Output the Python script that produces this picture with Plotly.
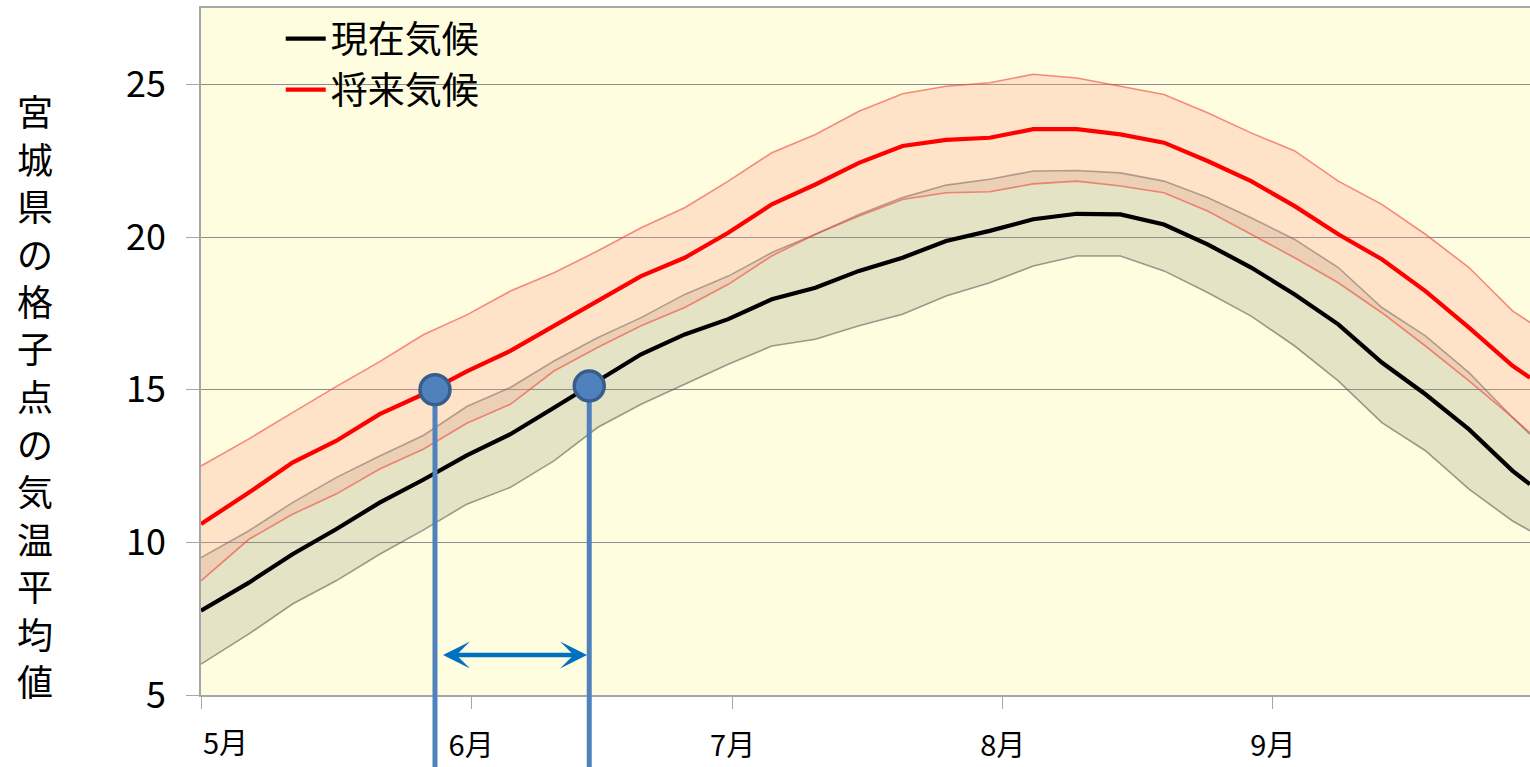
import plotly.graph_objects as go

# ---------------- data ----------------
days = [0, 5.5, 10.5, 15.5, 20.5, 25.5, 30.5, 35.5, 40.5, 45.5, 50.5, 55.5,
        60.5, 65.5, 70.5, 75.5, 80.5, 85.5, 90.5, 95.5, 100.5, 105.5, 110.5,
        115.5, 120.5, 125.5, 130.5, 135.5, 140.5, 145.5, 150.5, 152.5]

cur_mean = [7.76, 8.68, 9.61, 10.43, 11.3, 12.05, 12.85, 13.54, 14.41, 15.3, 16.16, 16.81,
            17.31, 17.96, 18.34, 18.89, 19.32, 19.87, 20.2, 20.58, 20.76, 20.74, 20.41,
            19.76, 19.0, 18.12, 17.14, 15.89, 14.85, 13.7, 12.34, 11.9]
cur_upper = [9.5, 10.38, 11.3, 12.12, 12.83, 13.5, 14.45, 15.07, 15.94, 16.7, 17.36, 18.12,
             18.72, 19.49, 20.09, 20.74, 21.29, 21.7, 21.89, 22.16, 22.18, 22.1, 21.83,
             21.29, 20.63, 19.92, 19.0, 17.69, 16.76, 15.56, 14.09, 13.54]
cur_lower = [6.01, 7.0, 7.98, 8.74, 9.61, 10.4, 11.25, 11.8, 12.67, 13.76, 14.52, 15.18,
             15.83, 16.43, 16.65, 17.09, 17.47, 18.07, 18.5, 19.05, 19.38, 19.38, 18.89,
             18.18, 17.41, 16.43, 15.29, 13.92, 13.0, 11.74, 10.7, 10.38]

fut_mean = [10.6, 11.63, 12.61, 13.32, 14.2, 14.85, 15.6, 16.27, 17.09, 17.9, 18.72, 19.32,
            20.14, 21.07, 21.72, 22.43, 22.98, 23.18, 23.25, 23.53, 23.53, 23.36, 23.09,
            22.49, 21.83, 21.01, 20.09, 19.27, 18.23, 17.03, 15.78, 15.39]
fut_upper = [12.5, 13.39, 14.25, 15.1, 15.92, 16.8, 17.45, 18.23, 18.83, 19.54, 20.3, 20.96,
             21.83, 22.76, 23.36, 24.12, 24.69, 24.94, 25.05, 25.33, 25.21, 24.94, 24.67,
             24.07, 23.41, 22.82, 21.83, 21.07, 20.09, 19.0, 17.58, 17.2]
fut_lower = [8.74, 10.1, 10.92, 11.58, 12.4, 13.05, 13.9, 14.52, 15.61, 16.38, 17.09, 17.69,
             18.45, 19.38, 20.09, 20.69, 21.23, 21.45, 21.48, 21.74, 21.83, 21.67, 21.45,
             20.85, 20.09, 19.32, 18.5, 17.52, 16.43, 15.29, 14.09, 13.59]

month_days = [0, 31, 61, 92, 123]
month_labels = ["5月", "6月", "7月", "8月", "9月"]

marker_days = [26.85, 44.55]
marker_temps = [15.0, 15.12]

arrow_days = [27.6, 44.3]
arrow_temp = 6.31

y_ticks = [5, 10, 15, 20, 25]
x_range = [0, 152.5]
y_range = [5, 27.5]

series_names = ["現在気候", "将来気候"]
y_title = "宮城県の格子点の気温平均値"

# ---------------- styles / layout ----------------
W, H = 1530, 767
M_L, M_R, M_T, M_B = 201, 0, 8, 72
PLOT_H = H - M_T - M_B

BG = "#FFFDE0"
CUR_FILL = "rgba(150,150,115,0.25)"
FUT_FILL = "rgba(250,160,140,0.27)"
CUR_EDGE = "rgba(80,80,80,0.55)"
FUT_EDGE = "rgba(240,70,60,0.6)"
BLUE = "#4F81BD"
BLUE_DARK = "#385D8A"
ARROW = "#0070C0"
FONT_NUM = "Liberation Sans Narrow, Noto Sans CJK JP, sans-serif"
FONT_JP = "Noto Sans CJK JP, sans-serif"

fig = go.Figure()

# current band
fig.add_trace(go.Scatter(x=days, y=cur_lower, mode="lines",
                         line=dict(color=CUR_EDGE, width=1.6), showlegend=False, hoverinfo="skip"))
fig.add_trace(go.Scatter(x=days, y=cur_upper, mode="lines", fill="tonexty", fillcolor=CUR_FILL,
                         line=dict(color=CUR_EDGE, width=1.6), showlegend=False, hoverinfo="skip"))
# future band
fig.add_trace(go.Scatter(x=days, y=fut_lower, mode="lines",
                         line=dict(color=FUT_EDGE, width=1.6), showlegend=False, hoverinfo="skip"))
fig.add_trace(go.Scatter(x=days, y=fut_upper, mode="lines", fill="tonexty", fillcolor=FUT_FILL,
                         line=dict(color=FUT_EDGE, width=1.6), showlegend=False, hoverinfo="skip"))
# means
fig.add_trace(go.Scatter(x=days, y=cur_mean, mode="lines", name=series_names[0],
                         line=dict(color="black", width=4.2), legendgroup="a"))
fig.add_trace(go.Scatter(x=days, y=fut_mean, mode="lines", name=series_names[1],
                         line=dict(color="#FF0000", width=4.2), legendgroup="b"))

# vertical blue lines inside the plot (from marker down to axis)
for d, t in zip(marker_days, marker_temps):
    fig.add_trace(go.Scatter(x=[d, d], y=[t, y_range[0]], mode="lines",
                             line=dict(color=BLUE, width=5), showlegend=False, hoverinfo="skip"))

# markers
fig.add_trace(go.Scatter(x=marker_days, y=marker_temps, mode="markers",
                         marker=dict(size=30, color=BLUE, line=dict(color=BLUE_DARK, width=3.5)),
                         showlegend=False, hoverinfo="skip", cliponaxis=False))

# continuation of the blue lines below the plot area
shapes = []
for d in marker_days:
    shapes.append(dict(type="line", xref="x", yref="paper", x0=d, x1=d, y0=0, y1=-0.12,
                       line=dict(color=BLUE, width=5), layer="above"))

annotations = []
# double-headed arrow
annotations.append(dict(x=arrow_days[1], y=arrow_temp, ax=arrow_days[0], ay=arrow_temp,
                        xref="x", yref="y", axref="x", ayref="y", text="", showarrow=True,
                        arrowhead=3, startarrowhead=3, arrowside="end+start",
                        arrowsize=1.0, startarrowsize=1.0, arrowwidth=4.5, arrowcolor=ARROW))

# vertical y-axis title: one upright character per line, stacked top to bottom
title_first_px, title_step_px = 110, 47.5   # page pixels of first char centre, spacing
for i, ch in enumerate(y_title):
    py = title_first_px + i * title_step_px
    annotations.append(dict(text=ch, xref="paper", yref="paper",
                            x=-0.125, y=(H - M_B - py) / PLOT_H,
                            xanchor="center", yanchor="middle", showarrow=False,
                            font=dict(family=FONT_JP, size=36, color="black")))

# first month label (placed to the right of the axis corner as in the original)
annotations.append(dict(text=month_labels[0], xref="x", yref="paper", x=month_days[0], y=0,
                        xanchor="left", yanchor="top", yshift=-23, xshift=0, showarrow=False,
                        font=dict(family=FONT_JP, size=29, color="black")))

fig.update_layout(
    width=W, height=H,
    margin=dict(l=M_L, r=M_R, t=M_T, b=M_B, autoexpand=False),
    paper_bgcolor="white",
    plot_bgcolor=BG,
    shapes=shapes,
    annotations=annotations,
    legend=dict(x=0.06, y=1.0, xanchor="left", yanchor="top", bgcolor="rgba(0,0,0,0)",
                font=dict(family=FONT_JP, size=37, color="black"), tracegroupgap=0,
                itemwidth=40),
    showlegend=True,
)

fig.update_xaxes(range=x_range, tickmode="array", tickvals=month_days,
                 ticktext=[""] + month_labels[1:], automargin=False,
                 showgrid=False, zeroline=False, showline=True, linecolor="#A6A6A6", linewidth=1.5,
                 mirror=True, ticks="outside", ticklen=12, tickcolor="#A6A6A6", tickwidth=1,
                 ticklabelstandoff=12,
                 tickfont=dict(family=FONT_JP, size=29, color="black"))
fig.update_yaxes(range=y_range, tickmode="array", tickvals=y_ticks, automargin=False,
                 showgrid=True, gridcolor="#8C8C8C", gridwidth=1.2, zeroline=False,
                 showline=True, linecolor="#A6A6A6", linewidth=1.5,
                 ticks="outside", ticklen=13, tickcolor="#A6A6A6", tickwidth=1,
                 ticklabelstandoff=13,
                 tickfont=dict(family=FONT_NUM, size=36, color="black"))

# remove the default page margin so the figure fills the window exactly
fig.write_html("out.html", config={"displayModeBar": False},
               post_script="document.body.style.margin='0';document.body.style.overflow='hidden';")
